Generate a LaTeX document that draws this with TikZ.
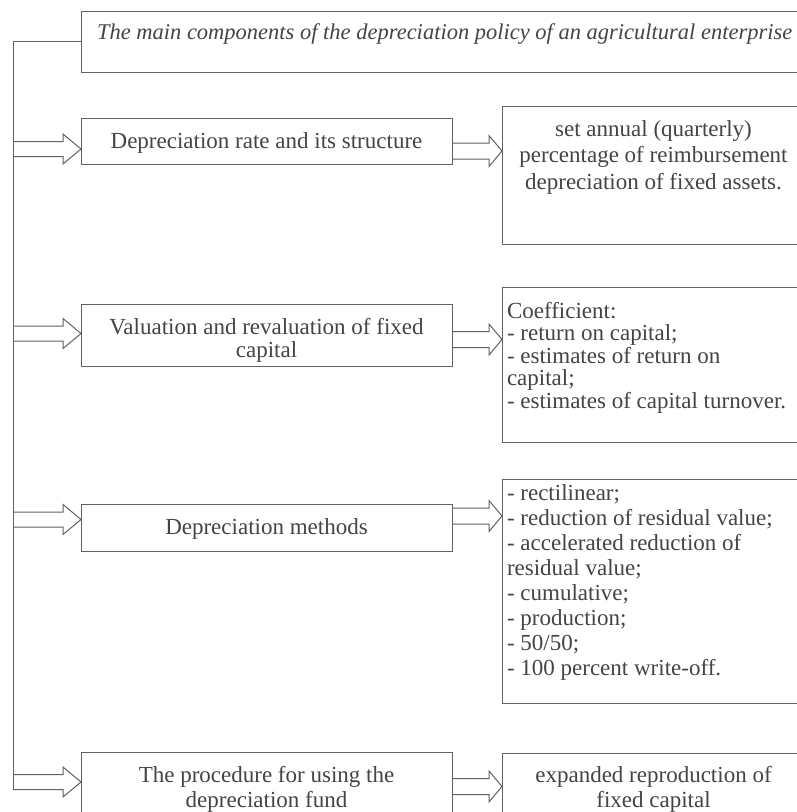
\documentclass[tikz,border=0pt]{standalone}
\usepackage{fontspec}
\setmainfont{Liberation Serif}
\usetikzlibrary{calc}
\definecolor{ink}{HTML}{444444}
\definecolor{frame}{HTML}{626262}
% invisible rule that fixes the height of a first text line
\newcommand\firstline{\rule{0pt}{17pt}}
\begin{document}
\begin{tikzpicture}[x=1pt,y=-1pt,
  box/.style={draw=frame, line width=1pt, rectangle, inner sep=0pt, outer sep=0pt, anchor=north west},
  txt/.style={text=ink, inner sep=0pt, outer sep=0pt},
  body/.style={txt, font=\fontsize{23}{#1}\selectfont},
  body/.default=22,
  conn/.style={draw=frame, line width=1pt, line join=miter},
  % hollow block arrow: #1 head length, #2 half shaft width, #3 half head width
  hollow/.style n args={3}{to path={let \p1=(\tikztostart), \p2=(\tikztotarget) in
    (\x1,\y2+#2) -- (\x2-#1,\y2+#2) -- (\x2-#1,\y2+#3) -- (\x2,\y2)
    -- (\x2-#1,\y2-#3) -- (\x2-#1,\y2-#2) -- (\x1,\y2-#2)}},
  leftarrow/.style={conn, hollow={18pt}{7.5pt}{15pt}},
  rightarrow/.style={conn, hollow={13pt}{8pt}{15.5pt}}
]
\useasboundingbox (0,0) rectangle (797,812);
\clip (0,0) rectangle (797,812);
\fill[white] (0,0) rectangle (797,812);

% heading box
\node[box, minimum width=740pt, minimum height=61pt] (head) at (81,11) {};
\node[txt, anchor=base west, font=\fontsize{22.5}{27}\selectfont\itshape] (headtext) at (97,39)
  {The main components of the depreciation policy of an agricultural enterprise};

% components (left column)
\node[box, minimum width=371pt, minimum height=46pt] (c1) at (81,118) {};
\node[body, anchor=base] (c1text) at (266.5,148) {Depreciation rate and its structure};

\node[box, minimum width=371pt, minimum height=62pt] (c2) at (81,304) {};
\node[body=23, anchor=north, align=center] (c2text) at (266.5,317)
  {\firstline Valuation and revaluation of fixed\\capital};

\node[box, minimum width=371pt, minimum height=47pt] (c3) at (81,504) {};
\node[body, anchor=base] (c3text) at (266.5,534) {Depreciation methods};

\node[box, minimum width=371pt, minimum height=80pt] (c4) at (81,752) {};
\node[body=25, anchor=north, align=center] (c4text) at (266.5,765)
  {\firstline The procedure for using the\\depreciation fund};

% contents (right column)
\node[box, minimum width=303pt, minimum height=138pt] (d1) at (502,106) {};
\node[body=26.5, anchor=north, align=center] (d1text) at (653.5,119)
  {\firstline set annual (quarterly)\\percentage of reimbursement\\depreciation of fixed assets.};

\node[box, minimum width=303pt, minimum height=155pt] (d2) at (502,287) {};
\node[body=22.5, anchor=north west, align=left] (d2text) at (507,301)
  {\firstline Coefficient:\\- return on capital;\\- estimates of return on\\capital;\\- estimates of capital turnover.};

\node[box, minimum width=303pt, minimum height=224pt] (d3) at (502,479) {};
\node[body=25, anchor=north west, align=left] (d3text) at (507,483)
  {\firstline - rectilinear;\\- reduction of residual value;\\- accelerated reduction of\\residual value;\\- cumulative;\\- production;\\- 50/50;\\- 100 percent write-off.};

\node[box, minimum width=303pt, minimum height=80pt] (d4) at (502,753) {};
\node[body=25, anchor=north, align=center] (d4text) at (653.5,765)
  {\firstline expanded reproduction of\\fixed capital};

% spine on the left
\coordinate (spinetop) at (13.5,41.5);
\coordinate (a1) at (13.5,149);
\coordinate (a2) at (13.5,333.5);
\coordinate (a3) at (13.5,519.5);
\coordinate (a4) at (13.5,782);
\coordinate (spinebot) at (13.5,789.5);
\draw[conn] (head.west |- spinetop) -- (spinetop) -- (spinebot);

\draw[leftarrow] (a1) to (c1.west |- a1);
\draw[leftarrow] (a2) to (c2.west |- a2);
\draw[leftarrow] (a3) to (c3.west |- a3);
\draw[leftarrow] (a4) to (c4.west |- a4);

% arrows to the right column
\coordinate (b1) at (452,151);
\coordinate (b2) at (452,339.5);
\coordinate (b3) at (452,516);
\coordinate (b4) at (452,786.5);
\draw[rightarrow] (c1.east |- b1) to (d1.west |- b1);
\draw[rightarrow] (c2.east |- b2) to (d2.west |- b2);
\draw[rightarrow] (c3.east |- b3) to (d3.west |- b3);
\draw[rightarrow] (c4.east |- b4) to (d4.west |- b4);
\end{tikzpicture}
\end{document}
